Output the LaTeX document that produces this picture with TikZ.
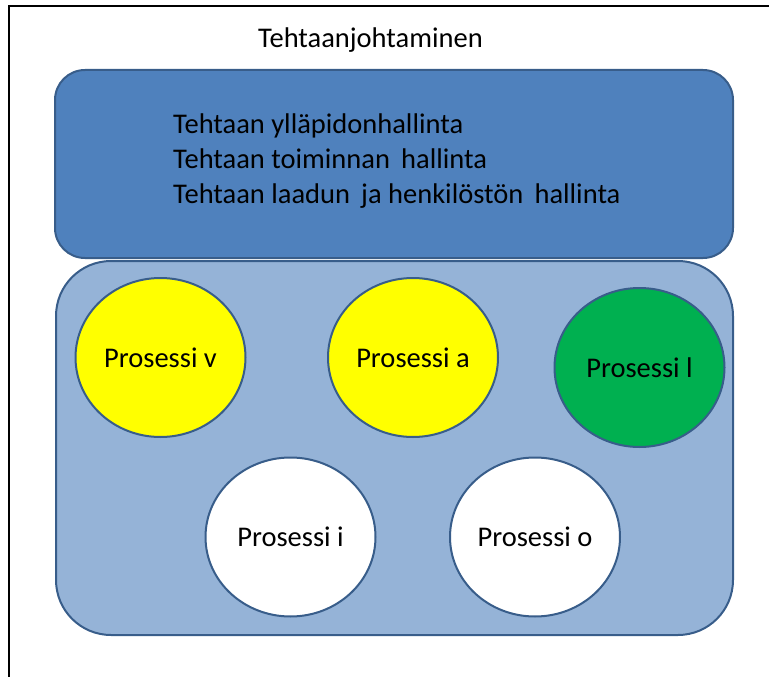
\documentclass[tikz,border=0pt]{standalone}
\usepackage{fontspec}
\setmainfont{Carlito}
\usetikzlibrary{shapes.geometric}
\definecolor{boxdark}{HTML}{4F81BD}
\definecolor{boxlight}{HTML}{95B3D7}
\definecolor{edgeblue}{HTML}{385D8A}
\definecolor{procyellow}{HTML}{FFFF00}
\definecolor{procgreen}{HTML}{00B050}
\tikzset{
  panel/.style={draw=edgeblue, line width=2pt},
  proc/.style={ellipse, draw=edgeblue, line width=2pt, inner sep=0pt,
    minimum width=170pt, minimum height=159pt, font=\fontsize{28.5}{33}\selectfont},
  label/.style={inner sep=0pt, anchor=base west, font=\fontsize{28.5}{33}\selectfont}
}
\begin{document}
\begin{tikzpicture}[x=1pt, y=-1pt]
\useasboundingbox (0,0) rectangle (769,677);
% page frame
\draw[line width=2pt] (9,677) -- (9,6) -- (769,6);
% heading
\node[label] (title) at (258,48) {Tehtaanjohtaminen};
% management panel
\draw[panel, fill=boxdark, rounded corners=30pt] (55,70) rectangle (733,258);
\node[label] (l1) at (173,133) {Tehtaan ylläpidonhallinta};
\node[label] (l2) at (173,168) {Tehtaan toiminnan\, hallinta};
\node[label] (l3) at (173,203) {Tehtaan laadun\, ja henkilöstön\, hallinta};
% process panel
\draw[panel, fill=boxlight, rounded corners=55pt] (56,261) rectangle (733,635);
\node[proc, fill=procyellow] (pv) at (160.5,357.5) {Prosessi v};
\node[proc, fill=procyellow] (pa) at (413,357.5) {Prosessi a};
\node[proc, fill=procgreen] (pl) at (639.5,367.5) {Prosessi l};
\node[proc, fill=white] (pi) at (290.5,537) {Prosessi i};
\node[proc, fill=white] (po) at (535,537) {Prosessi o};
\end{tikzpicture}
\end{document}
